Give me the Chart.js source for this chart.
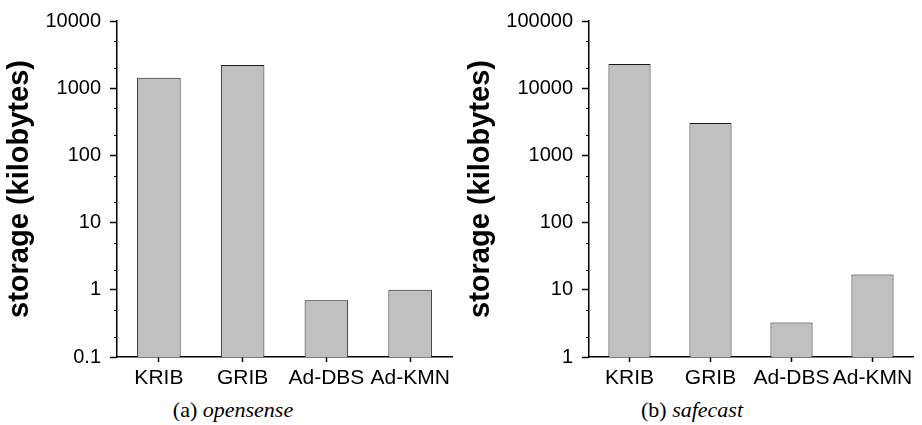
<!DOCTYPE html>
<html>
<head>
<meta charset="utf-8">
<script src="https://cdn.jsdelivr.net/npm/chart.js@4.4.1/dist/chart.umd.min.js"></script>
<style>
    body { margin: 0; background: #fff; }
    #lienzo { position: relative; width: 922px; height: 425px; overflow: hidden; }
    .panel { position: absolute; top: 0; width: 461px; height: 397px; }
    .cap {
        position: absolute; top: 399px; width: 300px; text-align: center;
        font-family: 'Liberation Serif', 'Times New Roman', serif;
        font-size: 22px; line-height: 22px; color: #000;
    }
</style>
</head>
<body>
<div id="lienzo">
    <div class="panel" style="left:0"><canvas id="chartA"></canvas></div>
    <div class="panel" style="left:461px"><canvas id="chartB"></canvas></div>
    <div class="cap" style="left:83px">(a) <i>opensense</i></div>
    <div class="cap" style="left:542px">(b) <i>safecast</i></div>
</div>

<script>
// ---- data ----
const categories = ['KRIB', 'GRIB', 'Ad-DBS', 'Ad-KMN'];

const opensenseKB = [1435, 2213, 0.70, 1.0];
const opensenseTicks = [0.1, 1, 10, 100, 1000, 10000];

const safecastKB = [22870, 3027, 3.26, 16.9];
const safecastTicks = [1, 10, 100, 1000, 10000, 100000];

// small ticks inside each decade
const minorSteps = [2, 5];

const yTitle = 'storage (kilobytes)';

Chart.defaults.font.family = "'Liberation Sans', Arial, sans-serif";
Chart.defaults.color = '#000';

// draws the short minor ticks on the left of the y axis
const minorTickPlugin = {
    id: 'minorTicks',
    afterDraw(chart) {
        const y = chart.scales.y;
        const ctx = chart.ctx;
        const x0 = chart.chartArea.left;
        ctx.save();
        ctx.strokeStyle = '#000';
        ctx.lineWidth = 1;
        for (let e = Math.floor(Math.log10(y.min)); e < Math.log10(y.max); e++) {
            minorSteps.forEach(m => {
                const v = m * Math.pow(10, e);
                if (v <= y.min || v >= y.max) return;
                const py = Math.round(y.getPixelForValue(v)) + 0.5;
                ctx.beginPath();
                ctx.moveTo(x0 - 3, py);
                ctx.lineTo(x0, py);
                ctx.stroke();
            });
        }
        ctx.restore();
    }
};

function crearPanel(id, valores, ticksY, anchoEje) {
    return new Chart(document.getElementById(id), {
        type: 'bar',
        data: {
            labels: categories,
            datasets: [{
                data: valores,
                backgroundColor: '#c0c0c0',
                borderColor: '#1a1a1a',
                borderWidth: 1,
                borderSkipped: 'bottom',
                barPercentage: 0.52,
                categoryPercentage: 1
            }]
        },
        options: {
            responsive: true,
            maintainAspectRatio: false,
            animation: false,
            layout: { padding: { top: 19, right: 9, left: 0, bottom: 0 } },
            plugins: { legend: { display: false }, tooltip: { enabled: false } },
            scales: {
                x: {
                    type: 'category',
                    offset: true,
                    afterFit: s => { s.height = 40; },
                    grid: { drawOnChartArea: false, offset: false, tickLength: 5, tickColor: '#000', tickWidth: 1.5 },
                    border: { color: '#000', width: 1.5 },
                    ticks: { font: { size: 21 }, color: '#000', padding: 4, maxRotation: 0, autoSkip: false }
                },
                y: {
                    type: 'logarithmic',
                    min: ticksY[0],
                    max: ticksY[ticksY.length - 1],
                    afterFit: s => { s.width = anchoEje; },
                    afterBuildTicks: s => { s.ticks = ticksY.map(v => ({ value: v })); },
                    grid: { drawOnChartArea: false, tickLength: 7, tickColor: '#000', tickWidth: 1.5 },
                    border: { color: '#000', width: 1.5 },
                    ticks: {
                        font: { size: 20 }, color: '#000', padding: 9, autoSkip: false,
                        callback: v => String(v)
                    },
                    title: {
                        display: true, text: yTitle, color: '#000',
                        font: { size: 29, weight: 'bold' },
                        padding: { top: 3, bottom: 0 }
                    }
                }
            }
        },
        plugins: [minorTickPlugin]
    });
}

crearPanel('chartA', opensenseKB, opensenseTicks, 117);
crearPanel('chartB', safecastKB, safecastTicks, 128);
</script>
</body>
</html>
